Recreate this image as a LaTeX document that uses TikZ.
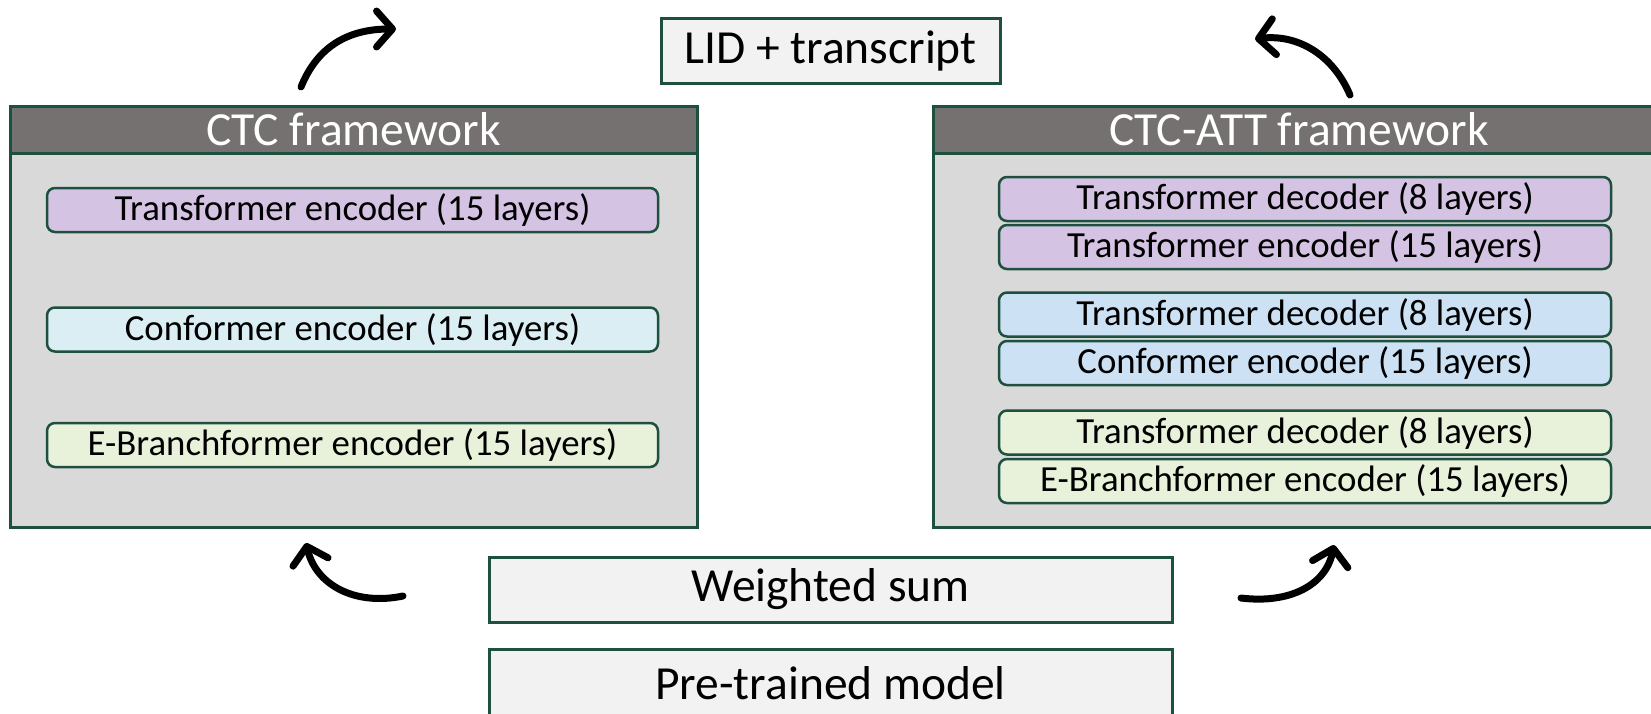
\documentclass[tikz,border=0pt]{standalone}
\usepackage{fontspec}
\setmainfont{Carlito}
\usetikzlibrary{arrows.meta}
\definecolor{edge}{HTML}{1E5040}
\definecolor{headgray}{HTML}{767171}
\definecolor{panelgray}{HTML}{D9D9D9}
\definecolor{boxwhite}{HTML}{F2F2F2}
\definecolor{lilac}{HTML}{D5C3E4}
\definecolor{palecyan}{HTML}{DAEEF3}
\definecolor{paleblue}{HTML}{CCE1F4}
\definecolor{palegreen}{HTML}{E8F1DA}

\begin{document}
\begin{tikzpicture}[x=1pt,y=-1pt,
  bigfont/.style={font=\fontsize{47.5}{55}\selectfont},
  smallfont/.style={font=\fontsize{36.8}{42}\selectfont},
  plainbox/.style={draw=edge,line width=3pt,fill=boxwhite,inner sep=0pt,bigfont},
  panel/.style={draw=edge,line width=3pt,fill=panelgray,inner sep=0pt},
  header/.style={draw=edge,line width=3pt,fill=headgray,inner sep=0pt,text=white,bigfont},
  layerbox/.style={draw=edge,line width=2.5pt,rounded corners=8pt,inner sep=0pt,
    minimum height=44pt,smallfont},
  flow/.style={line width=7pt,line cap=round,
    -{Straight Barb[length=16pt,width=36pt,round]}}
]
\useasboundingbox (0,0) rectangle (1651,713);
\clip (0,0) rectangle (1651,713);

% output box
\node[plainbox,minimum width=339pt,minimum height=65pt] (lid) at (830.5,50.5) {LID + transcript};

% CTC panel
\node[panel,minimum width=687pt,minimum height=421pt] (ctc) at (353.5,316.5) {};
\node[header,minimum width=687pt,minimum height=47pt] (ctchead) at (353.5,129.5) {CTC framework};
\node[layerbox,fill=lilac,minimum width=611pt] (ctcte) at (352.5,210) {Transformer encoder (15 layers)};
\node[layerbox,fill=palecyan,minimum width=611pt] (ctcce) at (352.5,329.5) {Conformer encoder (15 layers)};
\node[layerbox,fill=palegreen,minimum width=611pt] (ctceb) at (352.5,445) {E-Branchformer encoder (15 layers)};

% CTC-ATT panel
\node[panel,minimum width=732pt,minimum height=421pt] (att) at (1299,316.5) {};
\node[header,minimum width=732pt,minimum height=47pt] (atthead) at (1299,129.5) {CTC-ATT framework};
\node[layerbox,fill=lilac,minimum width=612pt] (atttd1) at (1305,199) {Transformer decoder (8 layers)};
\node[layerbox,fill=lilac,minimum width=612pt] (attte) at (1305,247) {Transformer encoder (15 layers)};
\node[layerbox,fill=paleblue,minimum width=612pt] (atttd2) at (1305,314.5) {Transformer decoder (8 layers)};
\node[layerbox,fill=paleblue,minimum width=612pt] (attce) at (1305,363) {Conformer encoder (15 layers)};
\node[layerbox,fill=palegreen,minimum width=612pt] (atttd3) at (1305,432.5) {Transformer decoder (8 layers)};
\node[layerbox,fill=palegreen,minimum width=612pt] (atteb) at (1305,481) {E-Branchformer encoder (15 layers)};

% shared front end
\node[plainbox,minimum width=683pt,minimum height=65pt] (wsum) at (830.5,589.5) {Weighted sum};
\node[plainbox,minimum width=683pt,minimum height=68pt] (ptm) at (830.5,683) {Pre-trained model};

% curved flow arrows
\coordinate (tls) at (301,87);   \coordinate (tle) at (396,29);
\coordinate (trs) at (1350,95);  \coordinate (tre) at (1255,39);
\coordinate (bls) at (403,596);  \coordinate (ble) at (306,543);
\coordinate (brs) at (1241,598); \coordinate (bre) at (1334,545);
\draw[flow] (tls) .. controls (318,45) and (350,29) .. (tle);
\draw[flow] (trs) .. controls (1333,55) and (1298,34) .. (tre);
\draw[flow] (bls) .. controls (355,606) and (316,585) .. (ble);
\draw[flow] (brs) .. controls (1290,604) and (1326,585) .. (bre);
\end{tikzpicture}
\end{document}
